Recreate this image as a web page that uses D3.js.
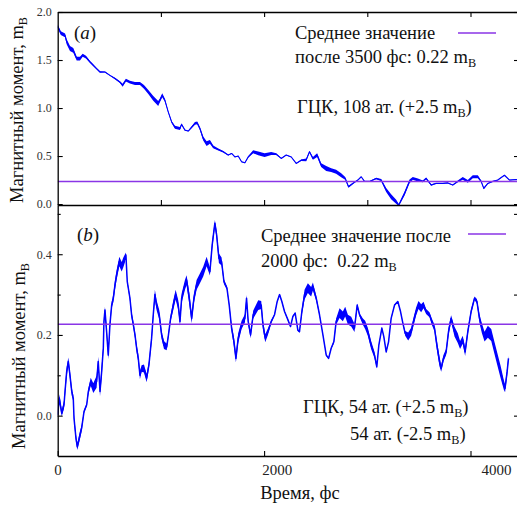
<!DOCTYPE html>
<html><head><meta charset="utf-8">
<script src="https://cdn.jsdelivr.net/npm/d3@7"></script>
<style>
body{margin:0;background:#fff}
svg{display:block}
</style>
</head><body>
<svg id="c" width="517" height="508" font-family="'Liberation Serif','Times New Roman','DejaVu Serif',serif"></svg>
<script>
// ---------- DATA ----------
// Panel (a): ГЦК, 108 ат.
const timeA   = [0,30,71,87,119,151,184,216,242,274,313,345,377,410,458,506,555,603,629,661,700,749,797,836,878,926,974,990,1013,1039,1071,1104,1136,1185,1200,1233,1265,1298,1330,1352,1378,1410,1443,1475,1507,1556,1604,1652,1685,1717,1749,1782,1814,1846,1894,1943,2005,2069,2117,2166,2214,2263,2311,2360,2408,2440,2473,2514,2553,2602,2650,2698,2747,2786,2818,2860,2908,2941,2973,3022,3086,3134,3183,3231,3280,3305,3328,3361,3409,3441,3490,3538,3570,3619,3667,3732,3780,3828,3877,3925,3974,4022,4071,4103,4129,4168,4216,4264,4329,4378,4442,4470];
const momentA = [1.85,1.78,1.757,1.69,1.62,1.60,1.515,1.515,1.55,1.53,1.48,1.445,1.41,1.375,1.375,1.34,1.307,1.27,1.237,1.29,1.27,1.255,1.255,1.22,1.167,1.10,1.047,1.08,1.133,1.08,0.96,0.855,0.80,0.787,0.83,0.77,0.76,0.80,0.84,0.845,0.787,0.683,0.63,0.648,0.595,0.568,0.544,0.51,0.527,0.49,0.50,0.44,0.43,0.49,0.544,0.527,0.51,0.527,0.52,0.475,0.51,0.49,0.423,0.457,0.46,0.544,0.475,0.51,0.405,0.37,0.353,0.336,0.30,0.267,0.18,0.215,0.25,0.284,0.236,0.236,0.267,0.25,0.146,0.076,0.024,-0.01,0.04,0.11,0.236,0.267,0.25,0.236,0.267,0.198,0.215,0.215,0.22,0.198,0.236,0.267,0.236,0.284,0.284,0.236,0.163,0.215,0.236,0.25,0.30,0.25,0.255,0.25];
const noiseA  = [0.02,0.02,0.02,0.025,0.025,0.025,0.02,0.02,0.015,0.015,0.01,0.01,0.008,0.008,0.005,0.005,0.008,0.01,0.015,0.015,0.015,0.015,0.015,0.02,0.02,0.025,0.025,0.02,0.02,0.015,0.01,0.01,0.015,0.015,0.01,0.004,0.004,0.01,0.015,0.015,0.015,0.02,0.025,0.02,0.015,0.01,0.008,0.004,0.004,0.004,0.004,0.004,0.004,0.008,0.015,0.02,0.02,0.015,0.01,0.004,0.004,0.004,0.004,0.008,0.015,0.008,0.015,0.02,0.02,0.025,0.02,0.02,0.02,0.015,0.01,0.008,0.004,0.004,0.004,0.004,0.008,0.01,0.02,0.025,0.02,0.01,0.015,0.02,0.02,0.015,0.015,0.01,0.01,0.008,0.004,0.004,0.004,0.004,0.01,0.015,0.015,0.015,0.015,0.01,0.01,0.004,0.004,0.004,0.004,0.004,0.004,0.004];
const meanA = 0.235;

// Panel (b): ГЦК, 54 ат. (+2.5) / 54 ат. (-2.5)
const timeB   = [0,16,39,61,71,87,103,119,136,151,158,177,190,216,232,255,281,297,320,345,377,393,410,426,442,448,458,474,490,506,523,539,555,571,597,620,636,652,661,674,700,716,733,749,765,781,797,813,836,862,884,910,926,942,958,984,1007,1030,1056,1071,1094,1120,1143,1168,1185,1201,1233,1249,1275,1298,1320,1346,1378,1410,1443,1475,1497,1523,1540,1562,1588,1611,1640,1662,1685,1708,1727,1749,1782,1814,1830,1846,1869,1894,1943,1972,1989,2011,2037,2069,2101,2127,2150,2172,2198,2230,2256,2279,2301,2327,2343,2366,2392,2424,2456,2473,2505,2537,2570,2602,2625,2650,2676,2698,2731,2763,2786,2812,2844,2876,2902,2925,2957,2979,3005,3037,3070,3092,3112,3141,3160,3183,3206,3231,3264,3296,3322,3344,3367,3396,3425,3448,3473,3496,3522,3545,3570,3603,3625,3651,3674,3700,3716,3738,3764,3787,3812,3845,3877,3899,3925,3948,3974,4006,4039,4062,4087,4110,4136,4168,4201,4233,4258,4291,4323,4335,4355,4368];
const momentB = [0.002,0.043,0.006,0.027,0.06,0.109,0.134,0.10,0.06,0.043,-0.006,-0.056,-0.077,-0.048,-0.031,0.01,0.027,0.06,0.084,0.068,0.084,0.134,0.06,0.109,0.167,0.233,0.262,0.208,0.15,0.225,0.274,0.291,0.324,0.349,0.382,0.369,0.38,0.39,0.398,0.332,0.291,0.25,0.225,0.20,0.167,0.142,0.10,0.117,0.117,0.093,0.126,0.192,0.25,0.30,0.274,0.25,0.20,0.175,0.17,0.196,0.241,0.274,0.30,0.274,0.233,0.291,0.324,0.336,0.291,0.241,0.291,0.324,0.34,0.357,0.382,0.357,0.423,0.477,0.448,0.39,0.382,0.332,0.316,0.274,0.217,0.183,0.142,0.192,0.225,0.241,0.291,0.233,0.20,0.25,0.274,0.274,0.225,0.192,0.208,0.233,0.25,0.283,0.30,0.283,0.258,0.238,0.221,0.246,0.254,0.212,0.208,0.258,0.30,0.316,0.307,0.32,0.291,0.25,0.20,0.15,0.142,0.167,0.183,0.233,0.254,0.246,0.258,0.238,0.233,0.217,0.274,0.25,0.233,0.225,0.208,0.175,0.15,0.121,0.175,0.217,0.196,0.158,0.183,0.241,0.274,0.283,0.258,0.23,0.204,0.196,0.208,0.233,0.258,0.274,0.266,0.274,0.258,0.25,0.233,0.217,0.175,0.134,0.117,0.142,0.158,0.208,0.241,0.208,0.192,0.175,0.188,0.158,0.208,0.258,0.291,0.283,0.241,0.217,0.196,0.208,0.20,0.167,0.142,0.109,0.076,0.068,0.109,0.142];
const noiseB  = [0.008,0.01,0.008,0.01,0.012,0.012,0.01,0.01,0.01,0.008,0.008,0.01,0.008,0.01,0.008,0.004,0.004,0.008,0.01,0.012,0.015,0.012,0.012,0.015,0.01,0.01,0.008,0.012,0.01,0.01,0.008,0.01,0.012,0.012,0.012,0.012,0.012,0.01,0.006,0.004,0.006,0.008,0.008,0.008,0.01,0.01,0.01,0.008,0.01,0.01,0.008,0.01,0.01,0.012,0.012,0.012,0.01,0.01,0.008,0.006,0.008,0.012,0.012,0.012,0.01,0.012,0.012,0.012,0.015,0.012,0.012,0.012,0.012,0.012,0.012,0.01,0.01,0.008,0.01,0.012,0.01,0.006,0.004,0.004,0.008,0.012,0.01,0.012,0.01,0.01,0.008,0.008,0.008,0.01,0.012,0.01,0.012,0.01,0.008,0.004,0.002,0.002,0.002,0.002,0.002,0.002,0.002,0.002,0.002,0.002,0.002,0.008,0.012,0.012,0.012,0.01,0.006,0.003,0.002,0.002,0.002,0.002,0.004,0.008,0.012,0.012,0.012,0.012,0.012,0.01,0.004,0.004,0.008,0.01,0.01,0.01,0.008,0.004,0.002,0.002,0.002,0.002,0.002,0.002,0.002,0.002,0.002,0.002,0.006,0.01,0.01,0.01,0.01,0.01,0.01,0.008,0.006,0.006,0.008,0.008,0.012,0.012,0.008,0.008,0.008,0.01,0.008,0.012,0.012,0.01,0.01,0.01,0.008,0.006,0.004,0.006,0.01,0.012,0.012,0.015,0.015,0.015,0.015,0.015,0.012,0.01,0.01,0.006];
const meanB = 0.2265;

// ticks / labels
const xTicksA = [1000,2000,3000,4000];
const xTicksB = [0,2000,4000];
const xTickLabels = [0,2000,4000];
const yTicksA = [0,0.5,1.0,1.5,2.0];
const yMajorB = [0,0.2,0.4];
const yMinorB = [0.1,0.3,0.5];
const yRightB = [0,0.1,0.2,0.3,0.4,0.5];

// ---------- LAYOUT ----------
const FONT = "'Liberation Serif','Times New Roman','DejaVu Serif',serif";
const svg = d3.select('#c');
const L = 57.7, R = 519;
const x = d3.scaleLinear().domain([0,4470]).range([L,R]);
// labels of the time axis sit slightly right of their ticks in the reference
const xLab = d3.scaleLinear().domain([0,4000]).range([58,496.5]);
const yA = d3.scaleLinear().domain([-0.01,2.0]).range([205,12]);
const yB = d3.scaleLinear().domain([-0.1,0.522]).range([456,205]);
const BLUE = '#0000ff', PURP = '#8a35e6';
const FS = 18.5;

const defs = svg.append('defs');
defs.append('clipPath').attr('id','ca').append('rect').attr('x',L).attr('y',11).attr('width',R-L).attr('height',195);
defs.append('clipPath').attr('id','cb').append('rect').attr('x',L).attr('y',205).attr('width',R-L).attr('height',251);

function series(y, t, v, s, clip, meanV, sw){
  const g = svg.append('g').attr('clip-path',`url(#${clip})`);
  const idx = d3.range(t.length);
  g.append('path').datum(idx)
    .attr('d', d3.area().x(i=>x(t[i])).y0(i=>y(v[i]-s[i])).y1(i=>y(v[i]+s[i])))
    .attr('fill',BLUE).attr('stroke','none');
  g.append('path').datum(idx)
    .attr('d', d3.line().x(i=>x(t[i])).y(i=>y(v[i])))
    .attr('fill','none').attr('stroke',BLUE).attr('stroke-width',sw).attr('stroke-linejoin','round');
  g.append('line').attr('x1',L).attr('x2',R).attr('y1',y(meanV)).attr('y2',y(meanV))
    .attr('stroke',PURP).attr('stroke-width',1.3);
}
series(yA, timeA, momentA, noiseA, 'ca', meanA, 1.1);
series(yB, timeB, momentB, noiseB, 'cb', meanB, 1.5);

function styleAxis(g){
  g.attr('font-family',FONT);
  g.selectAll('.domain').attr('stroke','#000').attr('stroke-width',1.3);
  g.selectAll('.tick line').attr('stroke','#000').attr('stroke-width',1.1);
  g.selectAll('.tick text').attr('fill','#333');
  return g;
}

// Panel (a) axes
styleAxis(svg.append('g').attr('transform',`translate(${L},0)`)
  .call(d3.axisLeft(yA).tickValues(yTicksA).tickSizeInner(-5).tickSizeOuter(0).tickPadding(6).tickFormat(d3.format('.1f')))
  ).attr('font-size',12);
styleAxis(svg.append('g').attr('transform',`translate(${R},0)`)
  .call(d3.axisRight(yA).tickValues(yTicksA).tickSizeInner(-5).tickSizeOuter(0).tickFormat('')));
styleAxis(svg.append('g').attr('transform',`translate(0,${yA.range()[1]})`)
  .call(d3.axisTop(x).tickValues(xTicksA).tickSizeInner(-5).tickSizeOuter(0).tickFormat('')));
styleAxis(svg.append('g').attr('transform',`translate(0,${yA.range()[0]})`)
  .call(d3.axisBottom(x).tickValues(xTicksA).tickSizeInner(-5).tickSizeOuter(0).tickFormat('')));

// Panel (b) axes
styleAxis(svg.append('g').attr('transform',`translate(${L},0)`)
  .call(d3.axisLeft(yB).tickValues(yMajorB).tickSizeInner(-5).tickSizeOuter(0).tickPadding(6).tickFormat(d3.format('.1f')))
  ).attr('font-size',12);
styleAxis(svg.append('g').attr('transform',`translate(${L},0)`)
  .call(d3.axisLeft(yB).tickValues(yMinorB).tickSizeInner(-3).tickSizeOuter(0).tickFormat('')))
  .select('.domain').remove();
styleAxis(svg.append('g').attr('transform',`translate(${R},0)`)
  .call(d3.axisRight(yB).tickValues(yRightB).tickSizeInner(-5).tickSizeOuter(0).tickFormat('')));
styleAxis(svg.append('g').attr('transform',`translate(0,${yB.range()[0]})`)
  .call(d3.axisBottom(x).tickValues(xTicksB).tickSizeInner(-5).tickSizeOuter(0).tickFormat('')));

// time-axis labels
svg.append('g').selectAll('text').data(xTickLabels).join('text')
  .attr('x',d=>xLab(d)).attr('y',475).attr('text-anchor','middle')
  .attr('font-size',15).attr('fill','#222').text(d=>d);

// titles
function sub(el, main, s){
  el.append('tspan').text(main);
  el.append('tspan').attr('font-size',FS*0.66).attr('dy',4).text(s);
}
sub(svg.append('text').attr('transform','translate(23,110) rotate(-90)').attr('text-anchor','middle').attr('font-size',FS).attr('fill','#111'),
  'Магнитный момент, m','B');
sub(svg.append('text').attr('transform','translate(25,356) rotate(-90)').attr('text-anchor','middle').attr('font-size',FS).attr('fill','#111'),
  'Магнитный момент, m','B');
svg.append('text').attr('x',300).attr('y',499).attr('text-anchor','middle').attr('font-size',FS).attr('fill','#111').text('Время, фс');

// panel labels
function plabel(xp,yp,letter){
  const t = svg.append('text').attr('x',xp).attr('y',yp).attr('font-size',19).attr('fill','#111');
  t.append('tspan').text('(');
  t.append('tspan').attr('font-style','italic').text(letter);
  t.append('tspan').text(')');
}
plabel(74,39,'a');
plabel(77,241,'b');

// legend / annotations (a)
svg.append('text').attr('x',295).attr('y',39).attr('font-size',FS).attr('fill','#111').text('Среднее значение');
svg.append('line').attr('x1',458).attr('x2',496).attr('y1',33).attr('y2',33).attr('stroke',PURP).attr('stroke-width',1.3);
sub(svg.append('text').attr('x',295).attr('y',63).attr('font-size',FS).attr('fill','#111'),'после 3500 фс: 0.22 m','B');
{
  const t = svg.append('text').attr('x',297).attr('y',113).attr('font-size',FS).attr('fill','#111');
  t.append('tspan').text('ГЦК, 108 ат. (+2.5 m');
  t.append('tspan').attr('font-size',FS*0.66).attr('dy',4).text('B');
  t.append('tspan').attr('dy',-4).text(')');
}
// legend / annotations (b)
svg.append('text').attr('x',261).attr('y',242).attr('font-size',FS).attr('fill','#111').text('Среднее значение после');
svg.append('line').attr('x1',468).attr('x2',506).attr('y1',234).attr('y2',234).attr('stroke',PURP).attr('stroke-width',1.3);
sub(svg.append('text').attr('x',261).attr('y',267).attr('font-size',FS).attr('fill','#111').style('white-space','pre'),'2000 фс:  0.22 m','B');
{
  const t = svg.append('text').attr('x',303).attr('y',413).attr('font-size',FS).attr('fill','#111');
  t.append('tspan').text('ГЦК, 54 ат. (+2.5 m');
  t.append('tspan').attr('font-size',FS*0.66).attr('dy',4).text('B');
  t.append('tspan').attr('dy',-4).text(')');
  const u = svg.append('text').attr('x',350).attr('y',440).attr('font-size',FS).attr('fill','#111');
  u.append('tspan').text('54 ат. (-2.5 m');
  u.append('tspan').attr('font-size',FS*0.66).attr('dy',4).text('B');
  u.append('tspan').attr('dy',-4).text(')');
}
</script>
</body></html>
